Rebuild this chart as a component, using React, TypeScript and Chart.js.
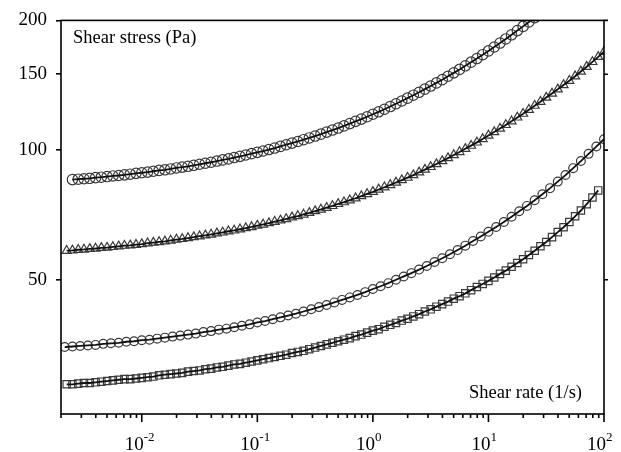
import { useEffect, useRef } from "react";
import { Chart, registerables } from "chart.js";

Chart.register(...registerables);

const FONT = "'Liberation Serif', 'Times New Roman', serif";

const X_MIN = 0.002;
const X_MAX = 100;
const Y_MIN = 24.4;
const Y_MAX = 200;
const Y_TICKS = [50, 100, 150, 200];
const X_DECADES = [-2, -1, 0, 1, 2];
const Y_TITLE = "Shear stress (Pa)";
const X_TITLE = "Shear rate (1/s)";

// shear rates, 20 points per decade (1/s)
const X20 = [
  0.002239, 0.002512, 0.002818, 0.003162, 0.003548, 0.003981, 0.004467, 0.005012, 0.005623, 0.00631, 0.007079, 0.007943, 0.008913,
  0.01, 0.01122, 0.01259, 0.01413, 0.01585, 0.01778, 0.01995, 0.02239, 0.02512, 0.02818, 0.03162, 0.03548, 0.03981, 0.04467, 0.05012, 0.05623, 0.0631, 0.07079, 0.07943, 0.08913,
  0.1, 0.1122, 0.1259, 0.1413, 0.1585, 0.1778, 0.1995, 0.2239, 0.2512, 0.2818, 0.3162, 0.3548, 0.3981, 0.4467, 0.5012, 0.5623, 0.631, 0.7079, 0.7943, 0.8913,
  1, 1.122, 1.259, 1.413, 1.585, 1.778, 1.995, 2.239, 2.512, 2.818, 3.162, 3.548, 3.981, 4.467, 5.012, 5.623, 6.31, 7.079, 7.943, 8.913,
  10, 11.22, 12.59, 14.13, 15.85, 17.78, 19.95, 22.39, 25.12, 28.18, 31.62, 35.48, 39.81, 44.67, 50.12, 56.23, 63.1, 70.79, 79.43, 89.13,
  100,
];

// shear rates, 15 points per decade (1/s)
const X15 = [
  0.002154, 0.002512, 0.002929, 0.003415, 0.003981, 0.004642, 0.005412, 0.00631, 0.007356, 0.008577,
  0.01, 0.01166, 0.01359, 0.01585, 0.01848, 0.02154, 0.02512, 0.02929, 0.03415, 0.03981, 0.04642, 0.05412, 0.0631, 0.07356, 0.08577,
  0.1, 0.1166, 0.1359, 0.1585, 0.1848, 0.2154, 0.2512, 0.2929, 0.3415, 0.3981, 0.4642, 0.5412, 0.631, 0.7356, 0.8577,
  1, 1.166, 1.359, 1.585, 1.848, 2.154, 2.512, 2.929, 3.415, 3.981, 4.642, 5.412, 6.31, 7.356, 8.577,
  10, 11.66, 13.59, 15.85, 18.48, 21.54, 25.12, 29.29, 34.15, 39.81, 46.42, 54.12, 63.1, 73.56, 85.77,
  100,
];

// top series (hexagons), starts at X20[1]
const STRESS_A = [
  85.4, 85.6, 85.8, 86.0, 86.3, 86.5, 86.8, 87.1, 87.3, 87.6, 87.9, 88.3,
  88.6, 88.9, 89.3, 89.7, 90.0, 90.4, 90.9, 91.3, 91.7, 92.2, 92.7, 93.2, 93.7, 94.3, 94.9, 95.4, 96.1, 96.7, 97.4, 98.1,
  98.8, 99.5, 100.3, 101.1, 102.0, 102.9, 103.8, 104.7, 105.7, 106.7, 107.8, 108.9, 110.1, 111.3, 112.5, 113.8, 115.2, 116.6, 118.0, 119.5,
  121.1, 122.7, 124.4, 126.2, 128.1, 130.0, 132.0, 134.1, 136.2, 138.5, 140.8, 143.2, 145.7, 148.4, 151.1, 153.9, 156.9, 160.0, 163.1, 166.5,
  169.9, 173.5, 177.2, 181.1, 185.2, 189.4, 193.7, 198.3, 203.0,
];

// triangles, on X20
const STRESS_B = [
  58.4, 58.5, 58.7, 58.8, 59.0, 59.1, 59.3, 59.4, 59.6, 59.8, 60.0, 60.1, 60.3,
  60.5, 60.8, 61.0, 61.2, 61.4, 61.7, 62.0, 62.2, 62.5, 62.8, 63.1, 63.4, 63.7, 64.1, 64.4, 64.8, 65.1, 65.5, 65.9, 66.3,
  66.8, 67.2, 67.7, 68.2, 68.7, 69.2, 69.8, 70.3, 70.9, 71.5, 72.2, 72.8, 73.5, 74.2, 75.0, 75.7, 76.5, 77.3, 78.2, 79.1,
  80.0, 81.0, 82.0, 83.0, 84.1, 85.2, 86.3, 87.5, 88.8, 90.1, 91.4, 92.8, 94.3, 95.8, 97.4, 99.0, 100.7, 102.4, 104.2, 106.1,
  108.1, 110.1, 112.2, 114.4, 116.7, 119.1, 121.5, 124.1, 126.8, 129.5, 132.4, 135.3, 138.4, 141.6, 144.9, 148.4, 152.2, 156.1, 160.2, 164.6,
  169.2,
];

// circles, on X15
const STRESS_C = [
  34.9, 35.0, 35.1, 35.2, 35.3, 35.5, 35.6, 35.7, 35.9, 36.0,
  36.2, 36.3, 36.5, 36.7, 36.9, 37.1, 37.3, 37.5, 37.8, 38.0, 38.3, 38.5, 38.8, 39.1, 39.4,
  39.8, 40.1, 40.5, 40.9, 41.3, 41.7, 42.2, 42.7, 43.2, 43.7, 44.3, 44.9, 45.5, 46.1, 46.8,
  47.6, 48.3, 49.1, 50.0, 50.9, 51.8, 52.8, 53.8, 55.0, 56.1, 57.3, 58.6, 60.0, 61.5, 63.0,
  64.6, 66.3, 68.1, 70.0, 72.1, 74.2, 76.5, 79.0, 81.6, 84.5, 87.5, 90.8, 94.3, 98.0, 101.9,
  106.0,
];

// squares, on X20 (first 93)
const STRESS_D = [
  28.6, 28.6, 28.7, 28.8, 28.8, 28.9, 29.0, 29.1, 29.2, 29.3, 29.4, 29.4, 29.5,
  29.6, 29.7, 29.8, 30.0, 30.1, 30.2, 30.3, 30.4, 30.6, 30.7, 30.8, 31.0, 31.1, 31.3, 31.4, 31.6, 31.8, 31.9, 32.1, 32.3,
  32.5, 32.7, 32.9, 33.1, 33.3, 33.5, 33.8, 34.0, 34.2, 34.5, 34.8, 35.1, 35.4, 35.7, 36.0, 36.3, 36.6, 37.0, 37.3, 37.7,
  38.1, 38.4, 38.9, 39.3, 39.7, 40.2, 40.6, 41.1, 41.6, 42.2, 42.7, 43.3, 43.9, 44.5, 45.2, 45.8, 46.5, 47.3, 48.1, 48.9,
  49.7, 50.6, 51.6, 52.5, 53.6, 54.7, 55.8, 57.1, 58.4, 59.8, 61.2, 62.8, 64.5, 66.2, 68.1, 70.2, 72.4, 74.9, 77.6, 80.6,
];

const pts = (xs: number[], ys: number[], offset = 0) =>
  ys.map((y, i) => ({ x: xs[i + offset], y }));

const framePlugin = {
  id: "frame",
  afterDraw(chart: any) {
    const { ctx, chartArea: a, scales } = chart;
    const xs = scales.x;
    const ys = scales.y;
    ctx.save();
    ctx.strokeStyle = "#000";
    ctx.lineWidth = 1.6;
    ctx.strokeRect(a.left, a.top, a.right - a.left, a.bottom - a.top);
    ctx.beginPath();
    for (let e = -3; e <= 2; e++) {
      for (let m = 1; m <= 9; m++) {
        const v = m * Math.pow(10, e);
        if (v < X_MIN * 0.999 || v > X_MAX * 1.001) continue;
        const px = xs.getPixelForValue(v);
        ctx.moveTo(px, a.bottom);
        ctx.lineTo(px, a.bottom + (m === 1 ? 8 : 4));
      }
    }
    Y_TICKS.forEach((v) => {
      const py = ys.getPixelForValue(v);
      ctx.moveTo(a.right, py);
      ctx.lineTo(a.right + 4, py);
    });
    ctx.stroke();

    ctx.fillStyle = "#000";
    ctx.textBaseline = "alphabetic";
    X_DECADES.forEach((e) => {
      const px = xs.getPixelForValue(Math.pow(10, e));
      ctx.font = `19px ${FONT}`;
      ctx.textAlign = "right";
      ctx.fillText("10", px + 2, 450);
      ctx.font = `13px ${FONT}`;
      ctx.textAlign = "left";
      ctx.fillText(String(e), px + 2, 441);
    });

    ctx.font = `18.5px ${FONT}`;
    ctx.textAlign = "left";
    ctx.fillText(Y_TITLE, 73, 42.5);
    ctx.textAlign = "right";
    ctx.fillText(X_TITLE, 582, 398);
    ctx.restore();
  },
};

export default function App() {
  const ref = useRef<HTMLCanvasElement>(null);

  useEffect(() => {
    if (!ref.current) return;
    const lineDs = (data: any[]) => ({
      data,
      showLine: true,
      borderColor: "#111",
      borderWidth: 1.8,
      pointRadius: 0,
      order: 0,
    });
    const markDs = (data: any[], style: string, r: number) => ({
      data,
      showLine: false,
      pointStyle: style,
      pointRadius: r,
      pointBorderColor: "#3a3a3a",
      pointBackgroundColor: "rgba(0,0,0,0)",
      pointBorderWidth: 1.2,
      order: 1,
    });
    const dA = pts(X20, STRESS_A, 1);
    const dB = pts(X20, STRESS_B);
    const dC = pts(X15, STRESS_C);
    const dD = pts(X20, STRESS_D);

    const chart = new Chart(ref.current, {
      type: "scatter",
      data: {
        datasets: [
          lineDs(dA),
          lineDs(dB),
          lineDs(dC),
          lineDs(dD),
          markDs(dA, "circle", 5.2),
          markDs(dB, "triangle", 5.2),
          markDs(dC, "circle", 4.4),
          markDs(dD, "rect", 5.2),
        ] as any,
      },
      options: {
        animation: false,
        responsive: false,
        events: [],
        layout: { padding: { left: 0, right: 17, top: 16, bottom: 0 } },
        plugins: { legend: { display: false }, tooltip: { enabled: false } },
        scales: {
          x: {
            type: "logarithmic",
            min: X_MIN,
            max: X_MAX,
            ticks: { display: false },
            grid: { display: false },
            border: { display: false },
            afterFit: (s: any) => {
              s.height = 38;
            },
          },
          y: {
            type: "logarithmic",
            min: Y_MIN,
            max: Y_MAX,
            afterBuildTicks: (s: any) => {
              s.ticks = Y_TICKS.map((v) => ({ value: v }));
            },
            ticks: {
              color: "#000",
              padding: 9,
              font: { family: FONT, size: 19 },
              callback: (v: any) => String(v),
            },
            grid: {
              display: true,
              drawOnChartArea: false,
              drawTicks: true,
              tickLength: 5,
              color: "#000",
              lineWidth: 1.6,
            },
            border: { display: false },
            afterFit: (s: any) => {
              s.width = 61;
            },
          },
        },
      },
      plugins: [framePlugin],
    } as any);
    return () => chart.destroy();
  }, []);

  return (
    <div style={{ position: "absolute", left: 0, top: 0, width: 621, height: 452, background: "#fff" }}>
      <canvas ref={ref} width={621} height={452} />
    </div>
  );
}
